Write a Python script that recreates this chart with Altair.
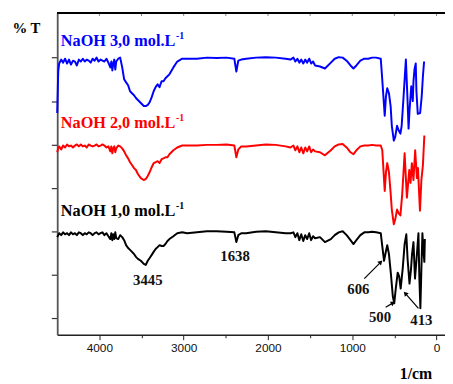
import altair as alt
import pandas as pd

# ---- shared wavenumber grid (cm-1) for the 4500-660 region ----
wn_grid = [4500,4488,4477,4453,4430,4407,4383,4360,4337,4313,4290,4267,4243,4220,4196,4173,4150,4126,4103,4080,
           4056,4033,4010,3986,3963,3940,3916,3893,3870,3858,3846,3835,3823,3811,3800,3776,3753,3729,3706,3683,
           3659,3636,3613,3589,3566,3543,3508,3473,3449,3426,3403,3379,3356,3333,3309,3286,3262,3239,3216,3192,
           3169,3122,3076,3017,2959,2842,2725,2609,2492,2399,2375,2352,2317,2258,2142,2025,1908,1791,1733,1698,
           1675,1651,1628,1605,1581,1558,1535,1511,1488,1465,1441,1383,1324,1254,1208,1161,1114,1067,1021,986,
           951,904,857,810,764,717,662]

t_naoh3 = [94.5,113.6,117.3,
           119.1,117.7,119.5,117.3,119.1,116.8,118.6,118.2,116.4,119.1,118.2,119.5,118.2,119.1,118.6,117.7,119.5,118.6,120.0,118.2,119.1,118.6,118.2,119.5,117.7,
           115.5,118.2,114.1,117.3,119.1,114.5,118.2,
           119.5,120.0,115.5,110.0,108.6,107.3,104.5,103.6,102.7,101.4,100.5,
           99.1,97.7,
           97.7,98.2,99.5,101.8,104.5,106.4,107.7,106.4,109.1,109.1,110.5,111.4,112.3,
           115.5,118.2,119.5,119.5,
           119.5,120.0,119.8,120.0,
           119.5,113.6,118.6,119.1,119.5,
           120.0,120.2,120.0,119.5,119.1,
           120.0,118.2,119.5,117.7,119.1,117.3,119.1,117.7,119.5,117.3,118.2,116.4,
           115.9,115.0,117.7,119.5,120.2,120.0,118.6,116.4,115.0,116.4,118.6,119.5,119.5,120.0,120.0,119.5]

t_naoh2 = [76.4,78.2,79.1,
           77.7,79.5,78.6,80.0,79.1,79.5,78.6,79.5,80.0,79.1,80.0,79.1,79.5,78.6,80.0,79.5,79.1,79.5,80.0,79.1,79.5,80.0,79.5,78.6,79.1,
           76.8,79.1,75.9,78.2,79.1,76.4,78.2,
           79.5,79.1,78.2,76.8,75.0,73.6,71.8,70.5,69.1,68.2,66.4,
           64.5,63.6,
           64.1,65.5,67.3,69.5,71.4,71.8,72.3,71.4,73.2,73.6,74.1,74.1,75.5,
           77.3,78.6,79.5,79.5,
           79.5,79.8,79.8,80.0,
           79.5,74.1,77.7,79.1,79.1,
           79.5,80.0,79.8,79.1,78.6,
           79.5,77.3,79.1,76.4,78.6,75.9,78.6,76.8,79.1,76.4,77.7,76.8,
           76.4,75.0,77.3,79.1,80.0,80.2,78.6,76.4,75.5,77.3,79.1,79.5,79.5,79.8,79.5,79.5]

t_naoh1 = [37.3,38.2,39.1,
           38.2,39.5,38.6,39.1,38.2,39.5,38.6,39.1,38.2,39.5,39.1,38.2,39.1,38.6,39.5,39.1,38.2,39.1,39.5,38.6,39.1,39.5,38.2,39.1,37.7,
           36.4,39.1,35.9,38.6,36.4,39.5,36.8,
           36.4,38.2,37.3,35.9,33.6,32.3,31.4,30.5,29.5,28.2,27.3,
           26.4,25.0,
           24.5,26.4,27.7,29.1,30.5,31.8,32.7,33.6,33.2,33.2,34.1,35.5,36.4,
           37.7,39.1,39.5,39.1,
           39.5,40.0,40.0,39.8,
           39.5,35.0,38.2,39.1,39.1,
           39.8,40.0,39.5,39.1,39.1,
           39.5,37.3,39.1,35.9,38.6,35.5,38.2,36.4,39.1,35.9,37.7,36.8,
           37.3,35.0,36.4,38.2,39.5,40.0,38.2,35.9,34.1,35.9,38.2,39.5,39.5,39.8,39.5,39.1]

# ---- fingerprint region (below ~660 cm-1), per series ----
wn_fp3 = [647,615,600,585,565,545,531,507,490,469,449,429,414,391,364,344,332,321,300,282,274,262,247,239,223,195,176,162,148]
t_fp3 = [111.4,93.2,102.3,105.9,103.6,97.7,88.6,81.8,83.6,88.6,86.4,85.0,88.6,102.3,119.1,100.0,87.3,95.5,106.8,100.0,
         109.1,114.5,117.3,104.5,94.1,94.5,102.3,111.4,118.2]

wn_fp2 = [644,615,600,585,565,545,531,507,490,469,449,429,408,379,352,324,309,293,274,254,233,221,197,180,162,145]
t_fp2 = [77.3,58.6,67.3,71.4,67.3,57.7,50.0,43.2,45.5,50.0,48.2,47.3,56.8,75.9,55.5,68.2,62.3,71.4,63.6,77.3,
         64.5,69.1,49.5,63.6,70.5,84.1]

wn_fp1 = [647,623,600,585,565,542,519,502,484,461,443,426,402,379,359,344,321,303,291,274,256,239,215,204,192,180,168,157,145,139]
t_fp1 = [34.1,26.4,30.9,33.6,29.5,20.5,10.0,6.8,13.6,20.9,19.1,13.6,22.7,34.1,38.6,27.3,15.9,22.7,29.5,35.0,
         18.2,26.4,39.1,18.2,4.5,22.7,39.1,31.8,25.9,36.4]

series_names = ["NaOH 3,0", "NaOH 2,0", "NaOH 1,0"]
series_colors = ["#0000ff", "#ff0000", "#000000"]

# ---- annotations ----
label_text = ["NaOH 3,0 mol.L", "NaOH 2,0 mol.L", "NaOH 1,0 mol.L"]
label_wn = [4457, 4457, 4457]
label_t = [127.7, 89.8, 49.3]
sup_wn = [3090, 3090, 3090]
sup_t = [130.0, 92.0, 51.5]

peak_text = ["3445", "1638", "606", "500", "413"]
peak_wn = [3426, 2390, 927, 671, 180]
peak_t = [17.3, 28.6, 13.2, 0.45, -0.9]

arrow_wn1 = [857, 604, 215]
arrow_t1 = [18.2, 5.0, 4.5]
arrow_wn2 = [662, 515, 371]
arrow_t2 = [25.8, 7.0, 11.4]
arrow_angle = [45, 62, 318]

top_ticks = [0, 500, 1000, 1500, 2000, 2500, 3000, 3500, 4000]
x_ticks = [0, 500, 1000, 1500, 2000, 2500, 3000, 3500, 4000]
y_ticks = list(range(0, 140, 10))

# ---- build tables ----
rows = []
for name, tg, wfp, tfp in zip(series_names, [t_naoh3, t_naoh2, t_naoh1],
                              [wn_fp3, wn_fp2, wn_fp1], [t_fp3, t_fp2, t_fp1]):
    for w, t in zip(wn_grid, tg):
        rows.append({"wn": w, "T": t, "s": name})
    for w, t in zip(wfp, tfp):
        rows.append({"wn": w, "T": t, "s": name})
spec = pd.DataFrame(rows)

labels = pd.DataFrame({"text": label_text, "wn": label_wn, "T": label_t, "c": series_colors})
sups = pd.DataFrame({"text": ["-1"] * 3, "wn": sup_wn, "T": sup_t, "c": series_colors})
peaks = pd.DataFrame({"text": peak_text, "wn": peak_wn, "T": peak_t})
arrows = pd.DataFrame({"x1": arrow_wn1, "y1": arrow_t1, "x2": arrow_wn2, "y2": arrow_t2, "a": arrow_angle})
tops = pd.DataFrame({"wn": top_ticks})

xscale = alt.Scale(domain=[4500, -100], nice=False, zero=False)
yscale = alt.Scale(domain=[-7.7, 140.6], nice=False, zero=False)

SERIF = "Liberation Serif"

x_axis = alt.Axis(
    values=x_ticks, format="d", grid=False,
    labelExpr="datum.value % 1000 === 0 ? datum.label : ''",
    labelFont="Liberation Sans", labelFontSize=12, labelColor="#111", labelPadding=3,
    tickSize={"condition": {"test": "datum.value % 1000 === 0", "value": 5}, "value": 3},
    tickColor="#222", tickWidth=1, domainColor="#222", domainWidth=1.5,
    title="1/cm", titleFont=SERIF, titleFontSize=16, titleFontWeight="bold", titleColor="#000",
    titleX=364, titleY=39, titleAlign="center", titleBaseline="middle", titleAnchor="start",
)
y_axis = alt.Axis(
    values=y_ticks, labels=False, grid=False,
    tickSize={"condition": {"test": "datum.value % 20 === 0", "value": 6}, "value": 3},
    tickColor="#333", tickWidth=1.2, domainColor="#555", domainWidth=1.8,
    title="% T", titleAngle=0, titleX=-46, titleY=15, titleAlign="left", titleBaseline="middle",
    titleFont=SERIF, titleFontSize=15, titleFontWeight="bold", titleColor="#000", titleAnchor="start",
)

lines = alt.Chart(spec).mark_line(strokeWidth=2, strokeJoin="round").encode(
    x=alt.X("wn:Q", scale=xscale, axis=x_axis),
    y=alt.Y("T:Q", scale=yscale, axis=y_axis),
    color=alt.Color("s:N", scale=alt.Scale(domain=series_names, range=series_colors), legend=None),
)

label_layer = alt.Chart(labels).mark_text(
    align="left", baseline="middle", font=SERIF, fontSize=16.5, fontWeight="bold"
).encode(x=alt.X("wn:Q", scale=xscale), y=alt.Y("T:Q", scale=yscale),
         text="text:N", color=alt.Color("c:N", scale=None))

sup_layer = alt.Chart(sups).mark_text(
    align="left", baseline="middle", font=SERIF, fontSize=10, fontWeight="bold"
).encode(x=alt.X("wn:Q", scale=xscale), y=alt.Y("T:Q", scale=yscale),
         text="text:N", color=alt.Color("c:N", scale=None))

peak_layer = alt.Chart(peaks).mark_text(
    align="center", baseline="middle", font=SERIF, fontSize=15, fontWeight="bold", color="#111"
).encode(x=alt.X("wn:Q", scale=xscale), y=alt.Y("T:Q", scale=yscale), text="text:N")

arrow_lines = alt.Chart(arrows).mark_rule(color="#000", strokeWidth=1.2).encode(
    x=alt.X("x1:Q", scale=xscale), y=alt.Y("y1:Q", scale=yscale), x2="x2:Q", y2="y2:Q")

arrow_heads = alt.Chart(arrows).mark_point(
    shape="triangle-up", filled=True, color="#000", size=28, opacity=1
).encode(x=alt.X("x2:Q", scale=xscale), y=alt.Y("y2:Q", scale=yscale),
         angle=alt.Angle("a:Q", scale=None))

top_border = alt.Chart(tops).mark_rule(color="#000", strokeWidth=2).encode(
    x=alt.value(0), x2=alt.value(394), y=alt.value(0))

top_tick_layer = alt.Chart(tops).mark_rule(color="#777", strokeWidth=1).encode(
    x=alt.X("wn:Q", scale=xscale), y=alt.value(0), y2=alt.value(3))

chart = alt.layer(
    lines, label_layer, sup_layer, peak_layer, arrow_lines, arrow_heads, top_tick_layer, top_border
).properties(
    width=394, height=327,
    padding={"left": 50, "top": 2, "right": 0, "bottom": 47},
    autosize=alt.AutoSizeParams(type="none"),
).configure_view(stroke=None).configure(background="white")

chart.save("out.html", embed_options={"renderer": "svg", "actions": False})
